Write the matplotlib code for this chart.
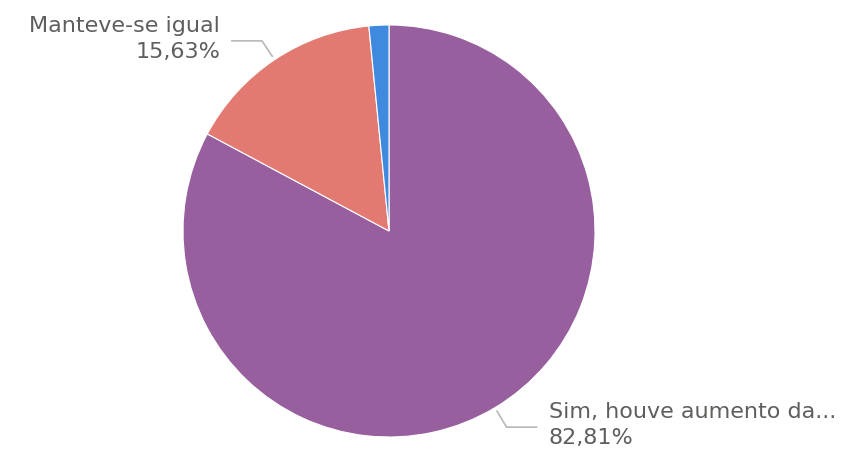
import numpy as np
import matplotlib.pyplot as plt

labels = ["Sim, houve aumento da...", "Manteve-se igual", "Diminuiu"]
values = [82.81, 15.63, 1.56]
colors = ["#985F9F", "#E27A72", "#3F8ADF"]
show_label = [True, True, False]

W, H = 844, 455
fig = plt.figure(figsize=(W / 100, H / 100), dpi=100)
ax = fig.add_axes([0, 0, 1, 1])

cx, cy, r = 389, H - 231, 206
wedges, _ = ax.pie(values, colors=colors, startangle=90, counterclock=False,
                   center=(cx, cy), radius=r, frame=True,
                   wedgeprops=dict(linewidth=0.8, edgecolor="white"))
ax.set_xlim(0, W)
ax.set_ylim(0, H)
ax.set_aspect("equal")
ax.axis("off")

txt_col = "#605E5C"
for w, lab, v, show in zip(wedges, labels, values, show_label):
    if not show:
        continue
    ang = np.deg2rad((w.theta1 + w.theta2) / 2)
    x0 = cx + r * 1.02 * np.cos(ang)
    y0 = cy + r * 1.02 * np.sin(ang)
    x1 = cx + r * 1.11 * np.cos(ang)
    y1 = cy + r * 1.11 * np.sin(ang)
    side = 1 if np.cos(ang) > 0 else -1
    x2 = x1 + side * 30
    ax.plot([x0, x1, x2], [y0, y1, y1], color="#B8B8B8", lw=1.2)
    pct = f"{v:.2f}%".replace(".", ",")
    ax.text(x2 + side * 12, y1 + 2, f"{lab}\n{pct}", ha="left" if side > 0 else "right",
            va="center", fontsize=16, color=txt_col, linespacing=1.4,
            multialignment="left" if side > 0 else "right")

fig.savefig("out.png", dpi=100)
